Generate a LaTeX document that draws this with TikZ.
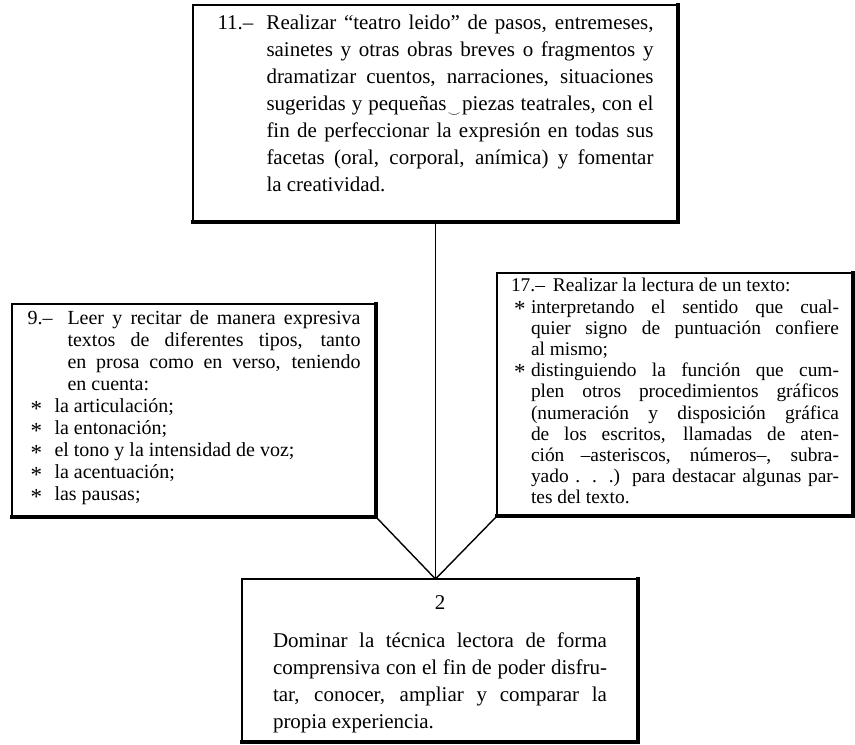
\documentclass[tikz,border=0pt]{standalone}
\usepackage{fontspec}
\setmainfont{Liberation Serif}
\usepackage{tikz}
\tikzstyle{normalBox} = [shape=rectangle, draw=black, text=black, line width=.7pt,
	align=justify, fill=white, anchor=north west, outer sep=0pt, inner ysep=0pt]
\tikzstyle{shadowLine} = [line width=1.6pt, draw=black, line cap=rect]
\tikzstyle{normalLine} = [line width=.7pt, draw=black]
\newcommand{\hangNum}[2]{\hangindent=#1\hangafter=1\makebox[#1][l]{#2}}
\newcommand{\astItem}[1]{\par\hangindent=#1\hangafter=1%
	\makebox[#1][l]{\hspace{1.5pt}\raisebox{-.35ex}{\fontsize{11.5}{11.5}\selectfont *}}}
\newcommand{\smileMark}{\kern.5pt\raisebox{-.6ex}{$\scriptscriptstyle\smile$}\kern.5pt}
\tolerance=9999 \hbadness=10000 \hyphenpenalty=10000

\begin{document}
\begin{tikzpicture}[x=1pt, y=1pt]
	\useasboundingbox (0,0) rectangle (427.5,372);
	\node (Obj11) at (96.5,369.5) [normalBox, text width=218pt, inner xsep=12.25pt,
		font=\fontsize{10.5}{13.5}\selectfont, text height=12.5pt, text depth=96pt]
		{\hangNum{24.5pt}{11.–}Realizar “teatro leido” de pasos, entremeses,\linebreak
		sainetes y otras obras breves o fragmentos y\linebreak
		dramatizar cuentos, narraciones, situaciones\linebreak
		sugeridas y pequeñas\smileMark piezas teatrales, con el\linebreak
		fin de perfeccionar la expresión en todas sus\linebreak
		facetas (oral, corporal, anímica) y fomentar\linebreak
		la creatividad.\par};

	\node (Obj9) at (6,220) [normalBox, text width=166.5pt, inner xsep=7.75pt,
		font=\fontsize{10}{11}\selectfont, text height=10.5pt, text depth=96pt]
		{\hangNum{20pt}{9.–}Leer y recitar de manera expresiva\linebreak
		textos de diferentes tipos, tanto\linebreak
		en prosa como en verso, teniendo\linebreak
		en cuenta:
		\astItem{13.5pt}la articulación;
		\astItem{13.5pt}la entonación;
		\astItem{13.5pt}el tono y la intensidad de voz;
		\astItem{13.5pt}la acentuación;
		\astItem{13.5pt}las pausas;\par};

	\node (Obj17) at (248.5,235.5) [normalBox, text width=164pt, inner xsep=7pt,
		font=\fontsize{9.7}{10.6}\selectfont, text height=9.5pt, text depth=112pt]
		{\hangNum{21pt}{17.–}Realizar la lectura de un texto:
		\astItem{10pt}interpretando el sentido que cual-\linebreak
		quier signo de puntuación confiere\linebreak
		al mismo;
		\astItem{10pt}distinguiendo la función que cum-\linebreak
		plen otros procedimientos gráficos\linebreak
		(numeración y disposición gráfica\linebreak
		de los escritos, llamadas de aten-\linebreak
		ción –asteriscos, números–, subra-\linebreak
		yado . . .) para destacar algunas par-\linebreak
		tes del texto.\par};

	\node (Obj2) at (121,82.5) [normalBox, text width=167pt, inner xsep=15.5pt,
		font=\fontsize{10.5}{13.5}\selectfont, text height=15pt, text depth=66.5pt]
		{\centerline{2}\vspace{5.5pt}
		Dominar la técnica lectora de forma\linebreak
		comprensiva con el fin de poder disfru-\linebreak
		tar, conocer, ampliar y comparar la\linebreak
		propia experiencia.\par};

	% heavier right and lower edges
	\foreach \n in {Obj11,Obj9,Obj17,Obj2}
		\draw [shadowLine] (\n.north east) -- (\n.south east) -- (\n.south west);

	\coordinate (Meet) at (Obj11.south |- Obj2.north);
	\draw [normalLine] (Obj11.south) -- (Meet);
	\draw [normalLine] (Obj9.south east) -- (Meet);
	\draw [normalLine] (Obj17.south west) -- (Meet);
\end{tikzpicture}
\end{document}
